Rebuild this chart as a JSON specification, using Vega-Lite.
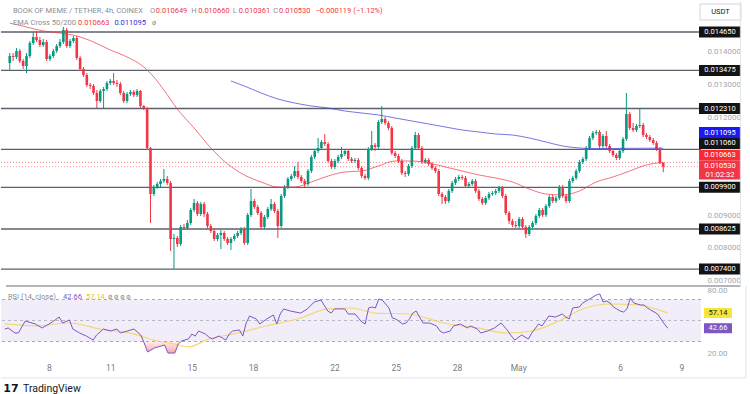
{
"$schema":"https://vega.github.io/schema/vega-lite/v6.json",
"padding":0,
"background":"#ffffff",
"spacing":0,
"bounds":"flush",
"config":{
 "view":{"stroke":null},
 "text":{"font":"Roboto","fontSize":7.5,"align":"left","baseline":"middle"},
 "axis":{"labelFont":"Roboto","labelFontSize":8,"domain":false,"ticks":false,"grid":false}
},
"datasets":{
"one":[{}],
"levels":[{"p":0.01465},{"p":0.013475},{"p":0.01231},{"p":0.01106},{"p":0.0099},{"p":0.008625},{"p":0.0074}],
"candles":[
{"t":"2024-04-05T20:00","o":0.013702,"h":0.014008,"l":0.013457,"c":0.013916},
{"t":"2024-04-06T00:00","o":0.013916,"h":0.014008,"l":0.013763,"c":0.013886},
{"t":"2024-04-06T04:00","o":0.013886,"h":0.014161,"l":0.013824,"c":0.014069},
{"t":"2024-04-06T08:00","o":0.014069,"h":0.014130,"l":0.013702,"c":0.013763},
{"t":"2024-04-06T12:00","o":0.013763,"h":0.013824,"l":0.013519,"c":0.013610},
{"t":"2024-04-06T16:00","o":0.013610,"h":0.014008,"l":0.013396,"c":0.013916},
{"t":"2024-04-06T20:00","o":0.013916,"h":0.014375,"l":0.013855,"c":0.014314},
{"t":"2024-04-07T00:00","o":0.014314,"h":0.014650,"l":0.014253,"c":0.014497},
{"t":"2024-04-07T04:00","o":0.014497,"h":0.014681,"l":0.014344,"c":0.014405},
{"t":"2024-04-07T08:00","o":0.014405,"h":0.014497,"l":0.014191,"c":0.014253},
{"t":"2024-04-07T12:00","o":0.014253,"h":0.014436,"l":0.014191,"c":0.014344},
{"t":"2024-04-07T16:00","o":0.014344,"h":0.014405,"l":0.013763,"c":0.013824},
{"t":"2024-04-07T20:00","o":0.013824,"h":0.013977,"l":0.013763,"c":0.013916},
{"t":"2024-04-08T00:00","o":0.013916,"h":0.014130,"l":0.013855,"c":0.014069},
{"t":"2024-04-08T04:00","o":0.014069,"h":0.014283,"l":0.014008,"c":0.014222},
{"t":"2024-04-08T08:00","o":0.014222,"h":0.014436,"l":0.014161,"c":0.014344},
{"t":"2024-04-08T12:00","o":0.014344,"h":0.014803,"l":0.014283,"c":0.014711},
{"t":"2024-04-08T16:00","o":0.014711,"h":0.014772,"l":0.014161,"c":0.014222},
{"t":"2024-04-08T20:00","o":0.014222,"h":0.014436,"l":0.014161,"c":0.014375},
{"t":"2024-04-09T00:00","o":0.014375,"h":0.014528,"l":0.014314,"c":0.014467},
{"t":"2024-04-09T04:00","o":0.014467,"h":0.014528,"l":0.013794,"c":0.013855},
{"t":"2024-04-09T08:00","o":0.013855,"h":0.013916,"l":0.013457,"c":0.013519},
{"t":"2024-04-09T12:00","o":0.013519,"h":0.013580,"l":0.013274,"c":0.013335},
{"t":"2024-04-09T16:00","o":0.013335,"h":0.013396,"l":0.012968,"c":0.013030},
{"t":"2024-04-09T20:00","o":0.013030,"h":0.013091,"l":0.012907,"c":0.012999},
{"t":"2024-04-10T00:00","o":0.012999,"h":0.013060,"l":0.012724,"c":0.012785},
{"t":"2024-04-10T04:00","o":0.012785,"h":0.012876,"l":0.012326,"c":0.012540},
{"t":"2024-04-10T08:00","o":0.012540,"h":0.012907,"l":0.012479,"c":0.012846},
{"t":"2024-04-10T12:00","o":0.012846,"h":0.012968,"l":0.012326,"c":0.012907},
{"t":"2024-04-10T16:00","o":0.012907,"h":0.013152,"l":0.012846,"c":0.013091},
{"t":"2024-04-10T20:00","o":0.013091,"h":0.013213,"l":0.013030,"c":0.013152},
{"t":"2024-04-11T00:00","o":0.013152,"h":0.013396,"l":0.013030,"c":0.013091},
{"t":"2024-04-11T04:00","o":0.013091,"h":0.013182,"l":0.012968,"c":0.013060},
{"t":"2024-04-11T08:00","o":0.013060,"h":0.013121,"l":0.012724,"c":0.012785},
{"t":"2024-04-11T12:00","o":0.012785,"h":0.012846,"l":0.012479,"c":0.012540},
{"t":"2024-04-11T16:00","o":0.012540,"h":0.012815,"l":0.012479,"c":0.012754},
{"t":"2024-04-11T20:00","o":0.012754,"h":0.012876,"l":0.012693,"c":0.012815},
{"t":"2024-04-12T00:00","o":0.012815,"h":0.012876,"l":0.012662,"c":0.012724},
{"t":"2024-04-12T04:00","o":0.012724,"h":0.012907,"l":0.012662,"c":0.012846},
{"t":"2024-04-12T08:00","o":0.012846,"h":0.012876,"l":0.012326,"c":0.012387},
{"t":"2024-04-12T12:00","o":0.012387,"h":0.012418,"l":0.012265,"c":0.012326},
{"t":"2024-04-12T16:00","o":0.012326,"h":0.012357,"l":0.011042,"c":0.011103},
{"t":"2024-04-12T20:00","o":0.011103,"h":0.011133,"l":0.008809,"c":0.009696},
{"t":"2024-04-13T00:00","o":0.009696,"h":0.009971,"l":0.009635,"c":0.009910},
{"t":"2024-04-13T04:00","o":0.009910,"h":0.010063,"l":0.009849,"c":0.010002},
{"t":"2024-04-13T08:00","o":0.010002,"h":0.010155,"l":0.009910,"c":0.010094},
{"t":"2024-04-13T12:00","o":0.010094,"h":0.010461,"l":0.010032,"c":0.010155},
{"t":"2024-04-13T16:00","o":0.010155,"h":0.010246,"l":0.009971,"c":0.010032},
{"t":"2024-04-13T20:00","o":0.010032,"h":0.010094,"l":0.007953,"c":0.008320},
{"t":"2024-04-14T00:00","o":0.008320,"h":0.008473,"l":0.007402,"c":0.008351},
{"t":"2024-04-14T04:00","o":0.008351,"h":0.008412,"l":0.008075,"c":0.008167},
{"t":"2024-04-14T08:00","o":0.008167,"h":0.008748,"l":0.008106,"c":0.008687},
{"t":"2024-04-14T12:00","o":0.008687,"h":0.008779,"l":0.008595,"c":0.008656},
{"t":"2024-04-14T16:00","o":0.008656,"h":0.008901,"l":0.008595,"c":0.008809},
{"t":"2024-04-14T20:00","o":0.008809,"h":0.009268,"l":0.008748,"c":0.009207},
{"t":"2024-04-15T00:00","o":0.009207,"h":0.009543,"l":0.009146,"c":0.009421},
{"t":"2024-04-15T04:00","o":0.009421,"h":0.009482,"l":0.009023,"c":0.009085},
{"t":"2024-04-15T08:00","o":0.009085,"h":0.009451,"l":0.009023,"c":0.009390},
{"t":"2024-04-15T12:00","o":0.009390,"h":0.009451,"l":0.008993,"c":0.009085},
{"t":"2024-04-15T16:00","o":0.009085,"h":0.009146,"l":0.008656,"c":0.008717},
{"t":"2024-04-15T20:00","o":0.008717,"h":0.008779,"l":0.008503,"c":0.008564},
{"t":"2024-04-16T00:00","o":0.008564,"h":0.008626,"l":0.008259,"c":0.008320},
{"t":"2024-04-16T04:00","o":0.008320,"h":0.008503,"l":0.008259,"c":0.008442},
{"t":"2024-04-16T08:00","o":0.008442,"h":0.008595,"l":0.008014,"c":0.008503},
{"t":"2024-04-16T12:00","o":0.008503,"h":0.008564,"l":0.008259,"c":0.008320},
{"t":"2024-04-16T16:00","o":0.008320,"h":0.008381,"l":0.008137,"c":0.008198},
{"t":"2024-04-16T20:00","o":0.008198,"h":0.008381,"l":0.007984,"c":0.008320},
{"t":"2024-04-17T00:00","o":0.008320,"h":0.008473,"l":0.008259,"c":0.008412},
{"t":"2024-04-17T04:00","o":0.008412,"h":0.008564,"l":0.008351,"c":0.008503},
{"t":"2024-04-17T08:00","o":0.008503,"h":0.008687,"l":0.008442,"c":0.008626},
{"t":"2024-04-17T12:00","o":0.008626,"h":0.008687,"l":0.008137,"c":0.008198},
{"t":"2024-04-17T16:00","o":0.008198,"h":0.009115,"l":0.008137,"c":0.009054},
{"t":"2024-04-17T20:00","o":0.009054,"h":0.009849,"l":0.008993,"c":0.009482},
{"t":"2024-04-18T00:00","o":0.009482,"h":0.009543,"l":0.009237,"c":0.009299},
{"t":"2024-04-18T04:00","o":0.009299,"h":0.009360,"l":0.009054,"c":0.009115},
{"t":"2024-04-18T08:00","o":0.009115,"h":0.009176,"l":0.008626,"c":0.008687},
{"t":"2024-04-18T12:00","o":0.008687,"h":0.009054,"l":0.008626,"c":0.008993},
{"t":"2024-04-18T16:00","o":0.008993,"h":0.009299,"l":0.008932,"c":0.009237},
{"t":"2024-04-18T20:00","o":0.009237,"h":0.009543,"l":0.009176,"c":0.009390},
{"t":"2024-04-19T00:00","o":0.009390,"h":0.009451,"l":0.009115,"c":0.009176},
{"t":"2024-04-19T04:00","o":0.009176,"h":0.009237,"l":0.008351,"c":0.008717},
{"t":"2024-04-19T08:00","o":0.008717,"h":0.009696,"l":0.008656,"c":0.009635},
{"t":"2024-04-19T12:00","o":0.009635,"h":0.009971,"l":0.009574,"c":0.009910},
{"t":"2024-04-19T16:00","o":0.009910,"h":0.010216,"l":0.009849,"c":0.010155},
{"t":"2024-04-19T20:00","o":0.010155,"h":0.010308,"l":0.010094,"c":0.010246},
{"t":"2024-04-20T00:00","o":0.010246,"h":0.010552,"l":0.010185,"c":0.010399},
{"t":"2024-04-20T04:00","o":0.010399,"h":0.010675,"l":0.010155,"c":0.010216},
{"t":"2024-04-20T08:00","o":0.010216,"h":0.010277,"l":0.010032,"c":0.010094},
{"t":"2024-04-20T12:00","o":0.010094,"h":0.010155,"l":0.009910,"c":0.010002},
{"t":"2024-04-20T16:00","o":0.010002,"h":0.010461,"l":0.009941,"c":0.010399},
{"t":"2024-04-20T20:00","o":0.010399,"h":0.010889,"l":0.010338,"c":0.010828},
{"t":"2024-04-21T00:00","o":0.010828,"h":0.011072,"l":0.010766,"c":0.011011},
{"t":"2024-04-21T04:00","o":0.011011,"h":0.011409,"l":0.010950,"c":0.011103},
{"t":"2024-04-21T08:00","o":0.011103,"h":0.011347,"l":0.011042,"c":0.011286},
{"t":"2024-04-21T12:00","o":0.011286,"h":0.011531,"l":0.011164,"c":0.011225},
{"t":"2024-04-21T16:00","o":0.011225,"h":0.011286,"l":0.010644,"c":0.010705},
{"t":"2024-04-21T20:00","o":0.010705,"h":0.010766,"l":0.010461,"c":0.010522},
{"t":"2024-04-22T00:00","o":0.010522,"h":0.010766,"l":0.010461,"c":0.010705},
{"t":"2024-04-22T04:00","o":0.010705,"h":0.010889,"l":0.010644,"c":0.010828},
{"t":"2024-04-22T08:00","o":0.010828,"h":0.011133,"l":0.010766,"c":0.010919},
{"t":"2024-04-22T12:00","o":0.010919,"h":0.011072,"l":0.010858,"c":0.011011},
{"t":"2024-04-22T16:00","o":0.011011,"h":0.011072,"l":0.010705,"c":0.010766},
{"t":"2024-04-22T20:00","o":0.010766,"h":0.010828,"l":0.010644,"c":0.010705},
{"t":"2024-04-23T00:00","o":0.010705,"h":0.010797,"l":0.010644,"c":0.010736},
{"t":"2024-04-23T04:00","o":0.010736,"h":0.010797,"l":0.010430,"c":0.010491},
{"t":"2024-04-23T08:00","o":0.010491,"h":0.010552,"l":0.010185,"c":0.010246},
{"t":"2024-04-23T12:00","o":0.010246,"h":0.010308,"l":0.010124,"c":0.010185},
{"t":"2024-04-23T16:00","o":0.010185,"h":0.011133,"l":0.010124,"c":0.011072},
{"t":"2024-04-23T20:00","o":0.011072,"h":0.011623,"l":0.011011,"c":0.011195},
{"t":"2024-04-24T00:00","o":0.011195,"h":0.011256,"l":0.011011,"c":0.011133},
{"t":"2024-04-24T04:00","o":0.011133,"h":0.011959,"l":0.011072,"c":0.011898},
{"t":"2024-04-24T08:00","o":0.011898,"h":0.012387,"l":0.011837,"c":0.011990},
{"t":"2024-04-24T12:00","o":0.011990,"h":0.012051,"l":0.011806,"c":0.011867},
{"t":"2024-04-24T16:00","o":0.011867,"h":0.011928,"l":0.011653,"c":0.011714},
{"t":"2024-04-24T20:00","o":0.011714,"h":0.011775,"l":0.010889,"c":0.010950},
{"t":"2024-04-25T00:00","o":0.010950,"h":0.011011,"l":0.010797,"c":0.010858},
{"t":"2024-04-25T04:00","o":0.010858,"h":0.010919,"l":0.010644,"c":0.010705},
{"t":"2024-04-25T08:00","o":0.010705,"h":0.010766,"l":0.010277,"c":0.010338},
{"t":"2024-04-25T12:00","o":0.010338,"h":0.010399,"l":0.010216,"c":0.010308},
{"t":"2024-04-25T16:00","o":0.010308,"h":0.010614,"l":0.010246,"c":0.010552},
{"t":"2024-04-25T20:00","o":0.010552,"h":0.011164,"l":0.010491,"c":0.011103},
{"t":"2024-04-26T00:00","o":0.011103,"h":0.011592,"l":0.011042,"c":0.011500},
{"t":"2024-04-26T04:00","o":0.011500,"h":0.011561,"l":0.011042,"c":0.011103},
{"t":"2024-04-26T08:00","o":0.011103,"h":0.011164,"l":0.010614,"c":0.010675},
{"t":"2024-04-26T12:00","o":0.010675,"h":0.010797,"l":0.010614,"c":0.010736},
{"t":"2024-04-26T16:00","o":0.010736,"h":0.010797,"l":0.010552,"c":0.010614},
{"t":"2024-04-26T20:00","o":0.010614,"h":0.010675,"l":0.010430,"c":0.010491},
{"t":"2024-04-27T00:00","o":0.010491,"h":0.010552,"l":0.010338,"c":0.010399},
{"t":"2024-04-27T04:00","o":0.010399,"h":0.010461,"l":0.009635,"c":0.009696},
{"t":"2024-04-27T08:00","o":0.009696,"h":0.009758,"l":0.009390,"c":0.009604},
{"t":"2024-04-27T12:00","o":0.009604,"h":0.009666,"l":0.009390,"c":0.009482},
{"t":"2024-04-27T16:00","o":0.009482,"h":0.009849,"l":0.009421,"c":0.009788},
{"t":"2024-04-27T20:00","o":0.009788,"h":0.010094,"l":0.009727,"c":0.010032},
{"t":"2024-04-28T00:00","o":0.010032,"h":0.010216,"l":0.009971,"c":0.010155},
{"t":"2024-04-28T04:00","o":0.010155,"h":0.010277,"l":0.010094,"c":0.010216},
{"t":"2024-04-28T08:00","o":0.010216,"h":0.010277,"l":0.010124,"c":0.010185},
{"t":"2024-04-28T12:00","o":0.010185,"h":0.010246,"l":0.009880,"c":0.009941},
{"t":"2024-04-28T16:00","o":0.009941,"h":0.010063,"l":0.009880,"c":0.010002},
{"t":"2024-04-28T20:00","o":0.010002,"h":0.010155,"l":0.009941,"c":0.010094},
{"t":"2024-04-29T00:00","o":0.010094,"h":0.010155,"l":0.009727,"c":0.009788},
{"t":"2024-04-29T04:00","o":0.009788,"h":0.009849,"l":0.009482,"c":0.009543},
{"t":"2024-04-29T08:00","o":0.009543,"h":0.009604,"l":0.009360,"c":0.009421},
{"t":"2024-04-29T12:00","o":0.009421,"h":0.009635,"l":0.009360,"c":0.009574},
{"t":"2024-04-29T16:00","o":0.009574,"h":0.009758,"l":0.009513,"c":0.009696},
{"t":"2024-04-29T20:00","o":0.009696,"h":0.009788,"l":0.009635,"c":0.009727},
{"t":"2024-04-30T00:00","o":0.009727,"h":0.009849,"l":0.009666,"c":0.009788},
{"t":"2024-04-30T04:00","o":0.009788,"h":0.009941,"l":0.009727,"c":0.009880},
{"t":"2024-04-30T08:00","o":0.009880,"h":0.009941,"l":0.009574,"c":0.009635},
{"t":"2024-04-30T12:00","o":0.009635,"h":0.009696,"l":0.009054,"c":0.009115},
{"t":"2024-04-30T16:00","o":0.009115,"h":0.009176,"l":0.008779,"c":0.008870},
{"t":"2024-04-30T20:00","o":0.008870,"h":0.008932,"l":0.008687,"c":0.008748},
{"t":"2024-05-01T00:00","o":0.008748,"h":0.008870,"l":0.008656,"c":0.008717},
{"t":"2024-05-01T04:00","o":0.008717,"h":0.008993,"l":0.008656,"c":0.008932},
{"t":"2024-05-01T08:00","o":0.008932,"h":0.008993,"l":0.008626,"c":0.008687},
{"t":"2024-05-01T12:00","o":0.008687,"h":0.008748,"l":0.008351,"c":0.008473},
{"t":"2024-05-01T16:00","o":0.008473,"h":0.008748,"l":0.008412,"c":0.008687},
{"t":"2024-05-01T20:00","o":0.008687,"h":0.008870,"l":0.008626,"c":0.008809},
{"t":"2024-05-02T00:00","o":0.008809,"h":0.009085,"l":0.008748,"c":0.009023},
{"t":"2024-05-02T04:00","o":0.009023,"h":0.009268,"l":0.008962,"c":0.009207},
{"t":"2024-05-02T08:00","o":0.009207,"h":0.009268,"l":0.008993,"c":0.009054},
{"t":"2024-05-02T12:00","o":0.009054,"h":0.009390,"l":0.008993,"c":0.009329},
{"t":"2024-05-02T16:00","o":0.009329,"h":0.009666,"l":0.009268,"c":0.009604},
{"t":"2024-05-02T20:00","o":0.009604,"h":0.009666,"l":0.009421,"c":0.009482},
{"t":"2024-05-03T00:00","o":0.009482,"h":0.009635,"l":0.009421,"c":0.009574},
{"t":"2024-05-03T04:00","o":0.009574,"h":0.009971,"l":0.009513,"c":0.009910},
{"t":"2024-05-03T08:00","o":0.009910,"h":0.009971,"l":0.009574,"c":0.009635},
{"t":"2024-05-03T12:00","o":0.009635,"h":0.009696,"l":0.009421,"c":0.009482},
{"t":"2024-05-03T16:00","o":0.009482,"h":0.010155,"l":0.009421,"c":0.010094},
{"t":"2024-05-03T20:00","o":0.010094,"h":0.010246,"l":0.010032,"c":0.010185},
{"t":"2024-05-04T00:00","o":0.010185,"h":0.010461,"l":0.010124,"c":0.010399},
{"t":"2024-05-04T04:00","o":0.010399,"h":0.010736,"l":0.010338,"c":0.010675},
{"t":"2024-05-04T08:00","o":0.010675,"h":0.010828,"l":0.010614,"c":0.010766},
{"t":"2024-05-04T12:00","o":0.010766,"h":0.011164,"l":0.010705,"c":0.011103},
{"t":"2024-05-04T16:00","o":0.011103,"h":0.011470,"l":0.011042,"c":0.011409},
{"t":"2024-05-04T20:00","o":0.011409,"h":0.011623,"l":0.011347,"c":0.011561},
{"t":"2024-05-05T00:00","o":0.011561,"h":0.011653,"l":0.011500,"c":0.011592},
{"t":"2024-05-05T04:00","o":0.011592,"h":0.011653,"l":0.011103,"c":0.011164},
{"t":"2024-05-05T08:00","o":0.011164,"h":0.011531,"l":0.011103,"c":0.011470},
{"t":"2024-05-05T12:00","o":0.011470,"h":0.011623,"l":0.011103,"c":0.011164},
{"t":"2024-05-05T16:00","o":0.011164,"h":0.011225,"l":0.010950,"c":0.011011},
{"t":"2024-05-05T20:00","o":0.011011,"h":0.011072,"l":0.010828,"c":0.010889},
{"t":"2024-05-06T00:00","o":0.010889,"h":0.010950,"l":0.010736,"c":0.010797},
{"t":"2024-05-06T04:00","o":0.010797,"h":0.011072,"l":0.010736,"c":0.011011},
{"t":"2024-05-06T08:00","o":0.011011,"h":0.011439,"l":0.010950,"c":0.011378},
{"t":"2024-05-06T12:00","o":0.011378,"h":0.012785,"l":0.011317,"c":0.012142},
{"t":"2024-05-06T16:00","o":0.012142,"h":0.012204,"l":0.011653,"c":0.011714},
{"t":"2024-05-06T20:00","o":0.011714,"h":0.011867,"l":0.011592,"c":0.011653},
{"t":"2024-05-07T00:00","o":0.011653,"h":0.011837,"l":0.011592,"c":0.011775},
{"t":"2024-05-07T04:00","o":0.011775,"h":0.012326,"l":0.011714,"c":0.011806},
{"t":"2024-05-07T08:00","o":0.011806,"h":0.011867,"l":0.011439,"c":0.011500},
{"t":"2024-05-07T12:00","o":0.011500,"h":0.011561,"l":0.011378,"c":0.011439},
{"t":"2024-05-07T16:00","o":0.011439,"h":0.011500,"l":0.011286,"c":0.011347},
{"t":"2024-05-07T20:00","o":0.011347,"h":0.011409,"l":0.011195,"c":0.011256},
{"t":"2024-05-08T00:00","o":0.011256,"h":0.011317,"l":0.011011,"c":0.011072},
{"t":"2024-05-08T04:00","o":0.011072,"h":0.011133,"l":0.010614,"c":0.010649},
{"t":"2024-05-08T08:00","o":0.010649,"h":0.010660,"l":0.010361,"c":0.010530}
],
"ema50":[
{"t":"2024-04-05T20:00","v":0.014925},{"t":"2024-04-06T16:00","v":0.014803},{"t":"2024-04-07T12:00","v":0.014681},{"t":"2024-04-08T08:00","v":0.014619},{"t":"2024-04-09T04:00","v":0.014528},{"t":"2024-04-10T00:00","v":0.014344},{"t":"2024-04-10T20:00","v":0.014100},{"t":"2024-04-11T16:00","v":0.013886},{"t":"2024-04-12T12:00","v":0.013580},{"t":"2024-04-13T00:00","v":0.013274},{"t":"2024-04-13T12:00","v":0.012876},{"t":"2024-04-14T04:00","v":0.012295},{"t":"2024-04-15T00:00","v":0.011714},{"t":"2024-04-15T20:00","v":0.011103},{"t":"2024-04-16T16:00","v":0.010614},{"t":"2024-04-17T12:00","v":0.010277},{"t":"2024-04-18T08:00","v":0.010063},{"t":"2024-04-19T04:00","v":0.009910},{"t":"2024-04-20T00:00","v":0.009910},{"t":"2024-04-20T20:00","v":0.010063},{"t":"2024-04-21T16:00","v":0.010246},{"t":"2024-04-22T12:00","v":0.010369},{"t":"2024-04-23T08:00","v":0.010399},{"t":"2024-04-24T04:00","v":0.010552},{"t":"2024-04-25T00:00","v":0.010705},{"t":"2024-04-25T20:00","v":0.010705},{"t":"2024-04-26T16:00","v":0.010644},{"t":"2024-04-27T12:00","v":0.010522},{"t":"2024-04-28T08:00","v":0.010399},{"t":"2024-04-29T04:00","v":0.010277},{"t":"2024-04-30T00:00","v":0.010185},{"t":"2024-04-30T20:00","v":0.010063},{"t":"2024-05-01T16:00","v":0.009849},{"t":"2024-05-02T12:00","v":0.009696},{"t":"2024-05-03T08:00","v":0.009666},{"t":"2024-05-04T04:00","v":0.009788},{"t":"2024-05-05T00:00","v":0.010063},{"t":"2024-05-05T20:00","v":0.010216},{"t":"2024-05-06T16:00","v":0.010399},{"t":"2024-05-07T12:00","v":0.010583},{"t":"2024-05-08T08:00","v":0.010663}
],
"ema200":[
{"t":"2024-04-16T20:00","v":0.013152},{"t":"2024-04-17T12:00","v":0.012999},{"t":"2024-04-18T08:00","v":0.012785},{"t":"2024-04-19T04:00","v":0.012601},{"t":"2024-04-20T00:00","v":0.012479},{"t":"2024-04-20T20:00","v":0.012387},{"t":"2024-04-21T16:00","v":0.012326},{"t":"2024-04-22T12:00","v":0.012234},{"t":"2024-04-23T08:00","v":0.012173},{"t":"2024-04-24T04:00","v":0.012112},{"t":"2024-04-25T00:00","v":0.012020},{"t":"2024-04-25T20:00","v":0.011928},{"t":"2024-04-26T16:00","v":0.011837},{"t":"2024-04-27T12:00","v":0.011745},{"t":"2024-04-28T08:00","v":0.011653},{"t":"2024-04-29T04:00","v":0.011592},{"t":"2024-04-30T00:00","v":0.011531},{"t":"2024-04-30T20:00","v":0.011500},{"t":"2024-05-01T16:00","v":0.011409},{"t":"2024-05-02T12:00","v":0.011286},{"t":"2024-05-03T08:00","v":0.011164},{"t":"2024-05-04T04:00","v":0.011103},{"t":"2024-05-05T00:00","v":0.011087},{"t":"2024-05-05T20:00","v":0.011087},{"t":"2024-05-06T16:00","v":0.011093},{"t":"2024-05-07T12:00","v":0.011095},{"t":"2024-05-08T08:00","v":0.011095}
],
"rsi":[
{"t":"2024-04-05T20:00","r":41.9},{"t":"2024-04-06T00:00","r":42.9},{"t":"2024-04-06T08:00","r":38.1},{"t":"2024-04-06T12:00","r":38.1},{"t":"2024-04-06T20:00","r":49.5},{"t":"2024-04-07T04:00","r":47.6},{"t":"2024-04-07T08:00","r":46.7},{"t":"2024-04-07T16:00","r":42.9},{"t":"2024-04-08T00:00","r":46.7},{"t":"2024-04-08T04:00","r":48.6},{"t":"2024-04-08T12:00","r":53.3},{"t":"2024-04-08T16:00","r":47.6},{"t":"2024-04-09T00:00","r":50.5},{"t":"2024-04-09T04:00","r":41.9},{"t":"2024-04-09T12:00","r":38.1},{"t":"2024-04-09T20:00","r":35.2},{"t":"2024-04-10T00:00","r":33.3},{"t":"2024-04-10T04:00","r":31.4},{"t":"2024-04-10T08:00","r":36.2},{"t":"2024-04-10T16:00","r":41.9},{"t":"2024-04-11T00:00","r":40.0},{"t":"2024-04-11T08:00","r":41.9},{"t":"2024-04-11T12:00","r":38.1},{"t":"2024-04-11T20:00","r":40.0},{"t":"2024-04-12T04:00","r":41.9},{"t":"2024-04-12T12:00","r":36.2},{"t":"2024-04-12T16:00","r":28.6},{"t":"2024-04-12T20:00","r":20.0},{"t":"2024-04-13T04:00","r":23.8},{"t":"2024-04-13T12:00","r":25.7},{"t":"2024-04-13T16:00","r":26.7},{"t":"2024-04-13T20:00","r":19.0},{"t":"2024-04-14T04:00","r":19.0},{"t":"2024-04-14T08:00","r":27.6},{"t":"2024-04-14T12:00","r":30.5},{"t":"2024-04-14T20:00","r":32.4},{"t":"2024-04-15T00:00","r":37.1},{"t":"2024-04-15T04:00","r":35.2},{"t":"2024-04-15T08:00","r":40.0},{"t":"2024-04-15T16:00","r":37.1},{"t":"2024-04-15T20:00","r":34.3},{"t":"2024-04-16T00:00","r":32.4},{"t":"2024-04-16T08:00","r":35.2},{"t":"2024-04-16T12:00","r":33.3},{"t":"2024-04-16T16:00","r":31.4},{"t":"2024-04-16T20:00","r":37.1},{"t":"2024-04-17T00:00","r":40.0},{"t":"2024-04-17T08:00","r":41.0},{"t":"2024-04-17T12:00","r":35.2},{"t":"2024-04-17T16:00","r":47.6},{"t":"2024-04-17T20:00","r":54.3},{"t":"2024-04-18T04:00","r":51.4},{"t":"2024-04-18T08:00","r":46.7},{"t":"2024-04-18T16:00","r":51.4},{"t":"2024-04-19T00:00","r":55.2},{"t":"2024-04-19T04:00","r":46.7},{"t":"2024-04-19T08:00","r":56.2},{"t":"2024-04-19T12:00","r":61.0},{"t":"2024-04-19T20:00","r":59.0},{"t":"2024-04-20T08:00","r":57.1},{"t":"2024-04-20T16:00","r":61.0},{"t":"2024-04-21T00:00","r":67.6},{"t":"2024-04-21T08:00","r":69.5},{"t":"2024-04-21T16:00","r":59.0},{"t":"2024-04-21T20:00","r":57.1},{"t":"2024-04-22T00:00","r":61.0},{"t":"2024-04-22T12:00","r":61.0},{"t":"2024-04-22T16:00","r":56.2},{"t":"2024-04-23T00:00","r":56.2},{"t":"2024-04-23T08:00","r":48.6},{"t":"2024-04-23T12:00","r":46.7},{"t":"2024-04-23T16:00","r":61.9},{"t":"2024-04-23T20:00","r":62.9},{"t":"2024-04-24T00:00","r":61.9},{"t":"2024-04-24T04:00","r":70.5},{"t":"2024-04-24T08:00","r":69.5},{"t":"2024-04-24T16:00","r":61.9},{"t":"2024-04-24T20:00","r":52.4},{"t":"2024-04-25T00:00","r":51.4},{"t":"2024-04-25T08:00","r":46.7},{"t":"2024-04-25T12:00","r":47.6},{"t":"2024-04-25T16:00","r":51.4},{"t":"2024-04-25T20:00","r":57.1},{"t":"2024-04-26T00:00","r":59.0},{"t":"2024-04-26T04:00","r":53.3},{"t":"2024-04-26T08:00","r":47.6},{"t":"2024-04-26T16:00","r":47.6},{"t":"2024-04-27T00:00","r":44.8},{"t":"2024-04-27T04:00","r":40.0},{"t":"2024-04-27T08:00","r":38.1},{"t":"2024-04-27T16:00","r":40.0},{"t":"2024-04-27T20:00","r":44.8},{"t":"2024-04-28T04:00","r":46.7},{"t":"2024-04-28T12:00","r":42.9},{"t":"2024-04-28T16:00","r":44.8},{"t":"2024-04-29T00:00","r":41.9},{"t":"2024-04-29T04:00","r":38.1},{"t":"2024-04-29T12:00","r":40.0},{"t":"2024-04-29T20:00","r":42.9},{"t":"2024-04-30T04:00","r":47.6},{"t":"2024-04-30T08:00","r":43.8},{"t":"2024-04-30T12:00","r":40.0},{"t":"2024-04-30T16:00","r":35.2},{"t":"2024-04-30T20:00","r":31.4},{"t":"2024-05-01T04:00","r":36.2},{"t":"2024-05-01T12:00","r":32.4},{"t":"2024-05-01T16:00","r":38.1},{"t":"2024-05-02T00:00","r":46.7},{"t":"2024-05-02T04:00","r":44.8},{"t":"2024-05-02T12:00","r":54.3},{"t":"2024-05-02T20:00","r":53.3},{"t":"2024-05-03T04:00","r":56.2},{"t":"2024-05-03T08:00","r":53.3},{"t":"2024-05-03T12:00","r":51.4},{"t":"2024-05-03T16:00","r":61.9},{"t":"2024-05-04T00:00","r":62.9},{"t":"2024-05-04T04:00","r":66.7},{"t":"2024-05-04T08:00","r":68.6},{"t":"2024-05-04T12:00","r":70.5},{"t":"2024-05-04T20:00","r":74.3},{"t":"2024-05-05T00:00","r":75.2},{"t":"2024-05-05T04:00","r":67.6},{"t":"2024-05-05T08:00","r":68.6},{"t":"2024-05-05T12:00","r":66.7},{"t":"2024-05-05T16:00","r":62.9},{"t":"2024-05-05T20:00","r":61.0},{"t":"2024-05-06T00:00","r":59.0},{"t":"2024-05-06T04:00","r":58.1},{"t":"2024-05-06T08:00","r":61.0},{"t":"2024-05-06T12:00","r":71.4},{"t":"2024-05-06T16:00","r":66.7},{"t":"2024-05-06T20:00","r":65.7},{"t":"2024-05-07T00:00","r":64.8},{"t":"2024-05-07T04:00","r":64.8},{"t":"2024-05-07T08:00","r":61.9},{"t":"2024-05-07T12:00","r":60.0},{"t":"2024-05-07T16:00","r":58.1},{"t":"2024-05-07T20:00","r":56.2},{"t":"2024-05-08T00:00","r":51.4},{"t":"2024-05-08T04:00","r":46.7},{"t":"2024-05-08T08:00","r":42.66}
],
"rsima":[
{"t":"2024-04-05T20:00","r":46.7},{"t":"2024-04-07T08:00","r":44.8},{"t":"2024-04-09T00:00","r":47.6},{"t":"2024-04-10T12:00","r":41.9},{"t":"2024-04-12T04:00","r":37.1},{"t":"2024-04-13T08:00","r":30.5},{"t":"2024-04-14T04:00","r":27.6},{"t":"2024-04-14T20:00","r":24.8},{"t":"2024-04-15T20:00","r":32.4},{"t":"2024-04-17T00:00","r":37.1},{"t":"2024-04-18T16:00","r":44.8},{"t":"2024-04-20T08:00","r":52.4},{"t":"2024-04-21T16:00","r":61.0},{"t":"2024-04-22T20:00","r":61.9},{"t":"2024-04-24T00:00","r":57.1},{"t":"2024-04-25T16:00","r":56.2},{"t":"2024-04-27T08:00","r":47.6},{"t":"2024-04-29T00:00","r":42.9},{"t":"2024-04-30T12:00","r":38.1},{"t":"2024-05-01T16:00","r":40.0},{"t":"2024-05-03T00:00","r":49.5},{"t":"2024-05-04T04:00","r":61.0},{"t":"2024-05-05T12:00","r":65.7},{"t":"2024-05-06T20:00","r":64.8},{"t":"2024-05-08T08:00","r":57.14}
],
"oversold":[
{"t":"2024-04-12T15:15","r":30},{"t":"2024-04-12T16:00","r":28.6},{"t":"2024-04-12T20:00","r":20.0},{"t":"2024-04-13T04:00","r":23.8},{"t":"2024-04-13T12:00","r":25.7},{"t":"2024-04-13T16:00","r":26.7},{"t":"2024-04-13T20:00","r":19.0},{"t":"2024-04-14T04:00","r":19.0},{"t":"2024-04-14T08:00","r":27.6},{"t":"2024-04-14T11:20","r":30}
]
},
"vconcat":[
{
"width":700,"height":285,
"data":{"name":"one"},
"layer":[
{"mark":{"type":"rule","color":"#f23645","strokeDash":[1,2],"strokeWidth":1,"opacity":0.55},"encoding":{"y":{"datum":0.010663,"type":"quantitative"}}},
{"mark":{"type":"rule","color":"#f23645","strokeDash":[1,2],"strokeWidth":1,"opacity":0.55},"encoding":{"y":{"datum":0.01053,"type":"quantitative"}}},
{"data":{"name":"levels"},"mark":{"type":"rule","color":"#5d606b","strokeWidth":1.3},"encoding":{"y":{"field":"p","type":"quantitative"}}},
{"data":{"name":"candles"},"mark":{"type":"rule","strokeWidth":1},"encoding":{
 "x":{"field":"t","type":"temporal","scale":{"domain":[{"year":2024,"month":4,"date":5,"hours":15,"minutes":32},{"year":2024,"month":5,"date":9,"hours":23,"minutes":5}]},"axis":null},
 "y":{"field":"l","type":"quantitative","scale":{"domain":[0.006882,0.015598],"nice":false,"zero":false},"axis":{"orient":"right","values":[0.007,0.008,0.009,0.012,0.013,0.014],"format":".6f","labelColor":"#a3a6af","labelPadding":6,"labelOffset":-1.5,"labelFlush":false,"labelOverlap":false,"title":null}},
 "y2":{"field":"h"},
 "color":{"condition":{"test":"datum.c >= datum.o","value":"#089981"},"value":"#f23645"}}},
{"data":{"name":"candles"},"mark":{"type":"bar","size":2.6},"encoding":{
 "x":{"field":"t","type":"temporal","axis":null},
 "y":{"field":"o","type":"quantitative"},
 "y2":{"field":"c"},
 "color":{"condition":{"test":"datum.c >= datum.o","value":"#089981"},"value":"#f23645"}}},
{"data":{"name":"ema50"},"mark":{"type":"line","color":"#f23645","strokeWidth":1,"opacity":0.7,"interpolate":"monotone"},"encoding":{"x":{"field":"t","type":"temporal","axis":null},"y":{"field":"v","type":"quantitative"}}},
{"data":{"name":"ema200"},"mark":{"type":"line","color":"#3b3bd8","strokeWidth":1,"opacity":0.7,"interpolate":"monotone"},"encoding":{"x":{"field":"t","type":"temporal","axis":null},"y":{"field":"v","type":"quantitative"}}},
{"mark":{"type":"text","color":"#8a8d96"},"encoding":{"x":{"datum":{"year":2024,"month":4,"date":5,"hours":23,"minutes":46},"type":"temporal","axis":null},"y":{"datum":0.015292,"type":"quantitative"},"text":{"value":"BOOK OF MEME / TETHER, 4h, COINEX"}}},
{"mark":{"type":"text","color":"#8a8d96"},"encoding":{"x":{"datum":{"year":2024,"month":4,"date":12,"hours":19,"minutes":18},"type":"temporal","axis":null},"y":{"datum":0.015292,"type":"quantitative"},"text":{"value":"O"}}},
{"mark":{"type":"text","color":"#f23645"},"encoding":{"x":{"datum":{"year":2024,"month":4,"date":13,"hours":2,"minutes":22},"type":"temporal","axis":null},"y":{"datum":0.015292,"type":"quantitative"},"text":{"value":"0.010649"}}},
{"mark":{"type":"text","color":"#8a8d96"},"encoding":{"x":{"datum":{"year":2024,"month":4,"date":14,"hours":20,"minutes":43},"type":"temporal","axis":null},"y":{"datum":0.015292,"type":"quantitative"},"text":{"value":"H"}}},
{"mark":{"type":"text","color":"#f23645"},"encoding":{"x":{"datum":{"year":2024,"month":4,"date":15,"hours":4,"minutes":57},"type":"temporal","axis":null},"y":{"datum":0.015292,"type":"quantitative"},"text":{"value":"0.010660"}}},
{"mark":{"type":"text","color":"#8a8d96"},"encoding":{"x":{"datum":{"year":2024,"month":4,"date":16,"hours":22,"minutes":8},"type":"temporal","axis":null},"y":{"datum":0.015292,"type":"quantitative"},"text":{"value":"L"}}},
{"mark":{"type":"text","color":"#f23645"},"encoding":{"x":{"datum":{"year":2024,"month":4,"date":17,"hours":5,"minutes":11},"type":"temporal","axis":null},"y":{"datum":0.015292,"type":"quantitative"},"text":{"value":"0.010361"}}},
{"mark":{"type":"text","color":"#8a8d96"},"encoding":{"x":{"datum":{"year":2024,"month":4,"date":18,"hours":22,"minutes":22},"type":"temporal","axis":null},"y":{"datum":0.015292,"type":"quantitative"},"text":{"value":"C"}}},
{"mark":{"type":"text","color":"#f23645"},"encoding":{"x":{"datum":{"year":2024,"month":4,"date":19,"hours":5,"minutes":25},"type":"temporal","axis":null},"y":{"datum":0.015292,"type":"quantitative"},"text":{"value":"0.010530"}}},
{"mark":{"type":"text","color":"#f23645"},"encoding":{"x":{"datum":{"year":2024,"month":4,"date":21,"hours":0,"minutes":57},"type":"temporal","axis":null},"y":{"datum":0.015292,"type":"quantitative"},"text":{"value":"−0.000119 (−1.12%)"}}},
{"mark":{"type":"text","color":"#8a8d96"},"encoding":{"x":{"datum":{"year":2024,"month":4,"date":5,"hours":23,"minutes":46},"type":"temporal","axis":null},"y":{"datum":0.014925,"type":"quantitative"},"text":{"value":"EMA Cross 50/200"}}},
{"mark":{"type":"text","color":"#f23645"},"encoding":{"x":{"datum":{"year":2024,"month":4,"date":9,"hours":5,"minutes":25},"type":"temporal","axis":null},"y":{"datum":0.014925,"type":"quantitative"},"text":{"value":"0.010663"}}},
{"mark":{"type":"text","color":"#2f2fd0"},"encoding":{"x":{"datum":{"year":2024,"month":4,"date":11,"hours":0,"minutes":57},"type":"temporal","axis":null},"y":{"datum":0.014925,"type":"quantitative"},"text":{"value":"0.011095"}}},
{"mark":{"type":"text","color":"#8a8d96"},"encoding":{"x":{"datum":{"year":2024,"month":4,"date":12,"hours":21,"minutes":39},"type":"temporal","axis":null},"y":{"datum":0.014925,"type":"quantitative"},"text":{"value":"ø"}}},
{"data":{"name":"levels"},"transform":[{"filter":"datum.p != 0.01106"}],"mark":{"type":"point","shape":"M3,-5.5H45V5.5H3Z","size":4,"filled":true,"fill":"#131313","strokeWidth":0,"opacity":1},"encoding":{"x":{"datum":{"year":2024,"month":5,"date":9,"hours":23,"minutes":5},"type":"temporal","axis":null},"y":{"field":"p","type":"quantitative"}}},
{"data":{"name":"levels"},"transform":[{"filter":"datum.p != 0.01106"}],"mark":{"type":"text","color":"#ffffff","align":"center","dx":24},"encoding":{"x":{"datum":{"year":2024,"month":5,"date":9,"hours":23,"minutes":5},"type":"temporal","axis":null},"y":{"field":"p","type":"quantitative"},"text":{"field":"p","type":"quantitative","format":".6f"}}},
{"mark":{"type":"point","shape":"M3,-11.5H45V-0.5H3Z","size":4,"filled":true,"fill":"#131313","strokeWidth":0,"opacity":1},"encoding":{"x":{"datum":{"year":2024,"month":5,"date":9,"hours":23,"minutes":5},"type":"temporal","axis":null},"y":{"datum":0.01106,"type":"quantitative"}}},
{"mark":{"type":"text","color":"#ffffff","align":"center","dx":24,"dy":-6},"encoding":{"x":{"datum":{"year":2024,"month":5,"date":9,"hours":23,"minutes":5},"type":"temporal","axis":null},"y":{"datum":0.01106,"type":"quantitative"},"text":{"value":"0.011060"}}},
{"mark":{"type":"point","shape":"M3,-21.2H45V-10.2H3Z","size":4,"filled":true,"fill":"#1a1af0","strokeWidth":0,"opacity":1},"encoding":{"x":{"datum":{"year":2024,"month":5,"date":9,"hours":23,"minutes":5},"type":"temporal","axis":null},"y":{"datum":0.011095,"type":"quantitative"}}},
{"mark":{"type":"text","color":"#ffffff","align":"center","dx":24,"dy":-15.7},"encoding":{"x":{"datum":{"year":2024,"month":5,"date":9,"hours":23,"minutes":5},"type":"temporal","axis":null},"y":{"datum":0.011095,"type":"quantitative"},"text":{"value":"0.011095"}}},
{"mark":{"type":"point","shape":"M3,-12.5H45V-1.5H3Z","size":4,"filled":true,"fill":"#f72a35","strokeWidth":0,"opacity":1},"encoding":{"x":{"datum":{"year":2024,"month":5,"date":9,"hours":23,"minutes":5},"type":"temporal","axis":null},"y":{"datum":0.010663,"type":"quantitative"}}},
{"mark":{"type":"text","color":"#ffffff","align":"center","dx":24,"dy":-7},"encoding":{"x":{"datum":{"year":2024,"month":5,"date":9,"hours":23,"minutes":5},"type":"temporal","axis":null},"y":{"datum":0.010663,"type":"quantitative"},"text":{"value":"0.010663"}}},
{"mark":{"type":"point","shape":"M3,-5.7H45V12.8H3Z","size":4,"filled":true,"fill":"#f23645","strokeWidth":0,"opacity":1},"encoding":{"x":{"datum":{"year":2024,"month":5,"date":9,"hours":23,"minutes":5},"type":"temporal","axis":null},"y":{"datum":0.01053,"type":"quantitative"}}},
{"mark":{"type":"text","color":"#ffffff","align":"center","dx":24,"dy":-1},"encoding":{"x":{"datum":{"year":2024,"month":5,"date":9,"hours":23,"minutes":5},"type":"temporal","axis":null},"y":{"datum":0.01053,"type":"quantitative"},"text":{"value":"0.010530"}}},
{"mark":{"type":"text","color":"#ffffff","align":"center","dx":24,"dy":8.5},"encoding":{"x":{"datum":{"year":2024,"month":5,"date":9,"hours":23,"minutes":5},"type":"temporal","axis":null},"y":{"datum":0.01053,"type":"quantitative"},"text":{"value":"01:02:32"}}},
{"mark":{"type":"point","shape":"M4,-8H45V8H4Z","size":4,"filled":true,"fill":"#ffffff","stroke":"#d1d4dc","strokeWidth":1,"opacity":1},"encoding":{"x":{"datum":{"year":2024,"month":5,"date":9,"hours":23,"minutes":5},"type":"temporal","axis":null},"y":{"datum":0.015262,"type":"quantitative"}}},
{"mark":{"type":"text","color":"#131722","align":"center","dx":24.5},"encoding":{"x":{"datum":{"year":2024,"month":5,"date":9,"hours":23,"minutes":5},"type":"temporal","axis":null},"y":{"datum":0.015262,"type":"quantitative"},"text":{"value":"USDT"}}},
{"mark":{"type":"rule","color":"#9a9ca3","strokeWidth":1.5},"encoding":{"x":{"datum":{"year":2024,"month":4,"date":5,"hours":15,"minutes":32},"type":"temporal","axis":null},"x2":{"datum":{"year":2024,"month":5,"date":12,"hours":4,"minutes":2}},"y":{"datum":0.006882,"type":"quantitative"}}},
{"mark":{"type":"rule","color":"#e0e3eb","strokeWidth":1},"encoding":{"x":{"datum":{"year":2024,"month":5,"date":12,"hours":4,"minutes":2},"type":"temporal","axis":null},"y":{"datum":0.015598,"type":"quantitative"},"y2":{"datum":0.006882}}}
]
},
{
"width":700,"height":72,
"data":{"name":"one"},
"layer":[
{"mark":{"type":"rect","color":"#7e57c2","opacity":0.1},"encoding":{"y":{"datum":70,"type":"quantitative"},"y2":{"datum":30}}},
{"data":{"name":"oversold"},"mark":{"type":"area","opacity":1,"color":{"gradient":"linear","x1":0,"y1":0,"x2":0,"y2":1,"stops":[{"offset":0,"color":"rgba(242,54,69,0.08)"},{"offset":1,"color":"rgba(242,54,69,0.45)"}]}},"encoding":{"x":{"field":"t","type":"temporal"},"y":{"field":"r","type":"quantitative"},"y2":{"datum":30}}},
{"mark":{"type":"rule","color":"#9598a1","strokeDash":[3,3],"strokeWidth":1,"opacity":0.8},"encoding":{"y":{"datum":70,"type":"quantitative"}}},
{"mark":{"type":"rule","color":"#9598a1","strokeDash":[3,3],"strokeWidth":1,"opacity":0.6},"encoding":{"y":{"datum":50,"type":"quantitative"}}},
{"mark":{"type":"rule","color":"#9598a1","strokeDash":[3,3],"strokeWidth":1,"opacity":0.8},"encoding":{"y":{"datum":30,"type":"quantitative"}}},
{"data":{"name":"rsima"},"mark":{"type":"line","color":"#f2d35b","strokeWidth":1.2,"opacity":0.85,"interpolate":"monotone"},"encoding":{"x":{"field":"t","type":"temporal"},"y":{"field":"r","type":"quantitative"}}},
{"data":{"name":"rsi"},"mark":{"type":"line","color":"#7e57c2","strokeWidth":1},"encoding":{
 "x":{"field":"t","type":"temporal","scale":{"domain":[{"year":2024,"month":4,"date":5,"hours":15,"minutes":32},{"year":2024,"month":5,"date":9,"hours":23,"minutes":5}]},"axis":{"orient":"bottom","title":null,"values":[{"year":2024,"month":4,"date":8},{"year":2024,"month":4,"date":11},{"year":2024,"month":4,"date":15},{"year":2024,"month":4,"date":18},{"year":2024,"month":4,"date":22},{"year":2024,"month":4,"date":25},{"year":2024,"month":4,"date":28},{"year":2024,"month":5,"date":1},{"year":2024,"month":5,"date":6},{"year":2024,"month":5,"date":9}],"labelExpr":"date(datum.value) == 1 ? 'May' : '' + date(datum.value)","labelPadding":5,"labelColor":"#787b86","labelFontSize":8.5,"labelFlush":false,"labelOverlap":false}},
 "y":{"field":"r","type":"quantitative","scale":{"domain":[14.29,82.86],"nice":false,"zero":false},"axis":{"orient":"right","values":[20,80],"format":".2f","labelColor":"#a3a6af","labelPadding":6,"labelOffset":1.5,"labelFlush":false,"labelOverlap":false,"title":null}}}},
{"mark":{"type":"text","color":"#8a8d96"},"encoding":{"x":{"datum":{"year":2024,"month":4,"date":5,"hours":23,"minutes":46},"type":"temporal"},"y":{"datum":72.4,"type":"quantitative"},"text":{"value":"RSI (14, close)"}}},
{"mark":{"type":"text","color":"#7e57c2"},"encoding":{"x":{"datum":{"year":2024,"month":4,"date":8,"hours":16,"minutes":29},"type":"temporal"},"y":{"datum":72.4,"type":"quantitative"},"text":{"value":"42.66"}}},
{"mark":{"type":"text","color":"#e6c630"},"encoding":{"x":{"datum":{"year":2024,"month":4,"date":9,"hours":19,"minutes":32},"type":"temporal"},"y":{"datum":72.4,"type":"quantitative"},"text":{"value":"57.14"}}},
{"mark":{"type":"text","color":"#8a8d96"},"encoding":{"x":{"datum":{"year":2024,"month":4,"date":10,"hours":21,"minutes":25},"type":"temporal"},"y":{"datum":72.4,"type":"quantitative"},"text":{"value":"ø  ø  ø  ø"}}},
{"mark":{"type":"point","shape":"M3,-5H31V5H3Z","size":4,"filled":true,"fill":"#f9e43c","strokeWidth":0,"opacity":1},"encoding":{"x":{"datum":{"year":2024,"month":5,"date":9,"hours":23,"minutes":5},"type":"temporal"},"y":{"datum":57.14,"type":"quantitative"}}},
{"mark":{"type":"text","color":"#131722","align":"center","dx":17},"encoding":{"x":{"datum":{"year":2024,"month":5,"date":9,"hours":23,"minutes":5},"type":"temporal"},"y":{"datum":57.14,"type":"quantitative"},"text":{"value":"57.14"}}},
{"mark":{"type":"point","shape":"M3,-5H31V5H3Z","size":4,"filled":true,"fill":"#7e57c2","strokeWidth":0,"opacity":1},"encoding":{"x":{"datum":{"year":2024,"month":5,"date":9,"hours":23,"minutes":5},"type":"temporal"},"y":{"datum":42.66,"type":"quantitative"}}},
{"mark":{"type":"text","color":"#ffffff","align":"center","dx":17},"encoding":{"x":{"datum":{"year":2024,"month":5,"date":9,"hours":23,"minutes":5},"type":"temporal"},"y":{"datum":42.66,"type":"quantitative"},"text":{"value":"42.66"}}},
{"mark":{"type":"rule","color":"#e0e3eb","strokeWidth":1},"encoding":{"x":{"datum":{"year":2024,"month":4,"date":5,"hours":15,"minutes":32},"type":"temporal"},"x2":{"datum":{"year":2024,"month":5,"date":12,"hours":4,"minutes":2}},"y":{"datum":-4.71,"type":"quantitative"}}},
{"mark":{"type":"rule","color":"#e0e3eb","strokeWidth":1},"encoding":{"x":{"datum":{"year":2024,"month":5,"date":12,"hours":4,"minutes":2},"type":"temporal"},"y":{"datum":82.86,"type":"quantitative"},"y2":{"datum":-4.71}}},
{"mark":{"type":"text","color":"#131722","align":"center","fontSize":11,"fontWeight":900,"font":"DejaVu Sans"},"encoding":{"x":{"datum":{"year":2024,"month":4,"date":6,"hours":3,"minutes":18},"type":"temporal"},"y":{"datum":-15.17,"type":"quantitative"},"text":{"value":"17"}}},
{"mark":{"type":"text","color":"#131722","fontSize":10.5},"encoding":{"x":{"datum":{"year":2024,"month":4,"date":6,"hours":17,"minutes":25},"type":"temporal"},"y":{"datum":-15.17,"type":"quantitative"},"text":{"value":"TradingView"}}}
]
}
]
}
